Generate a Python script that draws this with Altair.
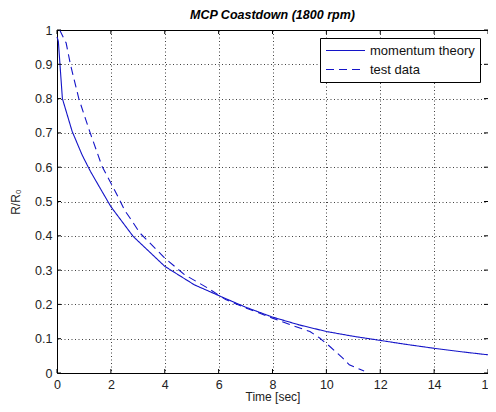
import altair as alt
import pandas as pd

# momentum theory (solid)
t_theory = [0.0, 0.05, 0.2, 0.56, 0.93, 1.24, 1.6, 2.0, 2.83, 4.0, 5.1, 6.2, 7.0, 8.0, 9.0, 10.0, 11.0, 12.0, 13.0, 14.0, 15.0, 16.0]
r_theory = [0.98, 0.967, 0.80, 0.705, 0.636, 0.588, 0.539, 0.485, 0.398, 0.311, 0.257, 0.219, 0.192, 0.163, 0.14, 0.121, 0.107, 0.095, 0.083, 0.072, 0.062, 0.053]

# test data (dashed)
t_test = [0.1, 0.34, 0.5, 0.81, 1.21, 1.67, 2.16, 2.53, 2.71, 3.08, 4.0, 4.73, 5.59, 6.26, 7.0, 8.0, 8.65, 9.39, 9.75, 10.12, 10.6, 10.85, 11.4]
r_test = [1.0, 0.962, 0.899, 0.80, 0.705, 0.603, 0.53, 0.472, 0.452, 0.408, 0.335, 0.287, 0.248, 0.214, 0.19, 0.16, 0.141, 0.121, 0.102, 0.078, 0.044, 0.024, 0.006]

series = ["momentum theory", "test data"]
x_ticks = [0, 2, 4, 6, 8, 10, 12, 14, 16]
y_ticks = [0, 0.1, 0.2, 0.3, 0.4, 0.5, 0.6, 0.7, 0.8, 0.9, 1.0]

W, H = 431, 343
BLUE = "#1414c8"

df = pd.concat([
    pd.DataFrame({"t": t_theory, "r": r_theory, "s": series[0], "o": range(len(t_theory))}),
    pd.DataFrame({"t": t_test, "r": r_test, "s": series[1], "o": range(len(t_test))}),
])

xs = alt.Scale(domain=[0, 16], nice=False, zero=False)
ys = alt.Scale(domain=[0, 1], nice=False, zero=False)
x_axis = alt.Axis(values=x_ticks, grid=True, ticks=False, domain=False, labelFlush=False,
                  labelBound=False, labelPadding=5, titlePadding=1)
y_axis = alt.Axis(values=y_ticks, grid=True, ticks=False, domain=False, labelFlush=False,
                  labelPadding=5, format="~g", titlePadding=12)
XT = "Time [sec]"
YT = "R/R₀"

lines = alt.Chart(df).mark_line(strokeWidth=1.1).encode(
    x=alt.X("t:Q", scale=xs, title=XT, axis=x_axis),
    y=alt.Y("r:Q", scale=ys, title=YT, axis=y_axis),
    color=alt.Color("s:N", scale=alt.Scale(domain=series, range=[BLUE, BLUE]), title=None,
                    legend=alt.Legend(orient="none", legendX=263, legendY=8)),
    strokeDash=alt.StrokeDash("s:N", scale=alt.Scale(domain=series, range=[[1, 0], [8, 5]]), title=None,
                              legend=alt.Legend(orient="none", legendX=263, legendY=8)),
    order="o:Q",
)

xt = pd.DataFrame({"t": x_ticks})
yt = pd.DataFrame({"r": y_ticks})
tick_style = dict(color="black", strokeWidth=1)
xb = alt.Chart(xt).mark_rule(**tick_style).encode(
    x=alt.X("t:Q", scale=xs, title=XT, axis=x_axis), y=alt.value(H - 4), y2=alt.value(H))
xtp = alt.Chart(xt).mark_rule(**tick_style).encode(
    x=alt.X("t:Q", scale=xs, title=XT, axis=x_axis), y=alt.value(0), y2=alt.value(4))
yl = alt.Chart(yt).mark_rule(**tick_style).encode(
    y=alt.Y("r:Q", scale=ys, title=YT, axis=y_axis), x=alt.value(0), x2=alt.value(4))
yr = alt.Chart(yt).mark_rule(**tick_style).encode(
    y=alt.Y("r:Q", scale=ys, title=YT, axis=y_axis), x=alt.value(W - 4), x2=alt.value(W))

chart = alt.layer(lines, xb, xtp, yl, yr).properties(
    width=W, height=H,
    title=alt.TitleParams("MCP Coastdown (1800 rpm)", font="Liberation Sans", fontSize=12.5,
                          fontStyle="italic", fontWeight="bold", color="black", offset=3),
    autosize=alt.AutoSizeParams(type="none"),
    padding={"left": 49, "top": 22, "right": 0, "bottom": 31},
).configure_view(stroke="black", strokeWidth=1).configure_axis(
    labelFont="Liberation Sans", labelFontSize=12.5, labelColor="#222",
    titleFont="Liberation Sans", titleFontSize=12, titleFontWeight="normal", titleColor="#222",
    gridColor="black", gridDash=[1, 2.5], gridOpacity=0.75, gridWidth=1,
).configure_legend(
    labelFont="Liberation Sans", labelFontSize=13, labelColor="#111",
    fillColor="white", strokeColor="black", padding=5, rowPadding=4,
    symbolType="M-1,0H5", symbolSize=169, symbolStrokeWidth=1.1, labelOffset=30,
    cornerRadius=0,
)

chart.save("out.html", embed_options={"renderer": "svg", "actions": False})
